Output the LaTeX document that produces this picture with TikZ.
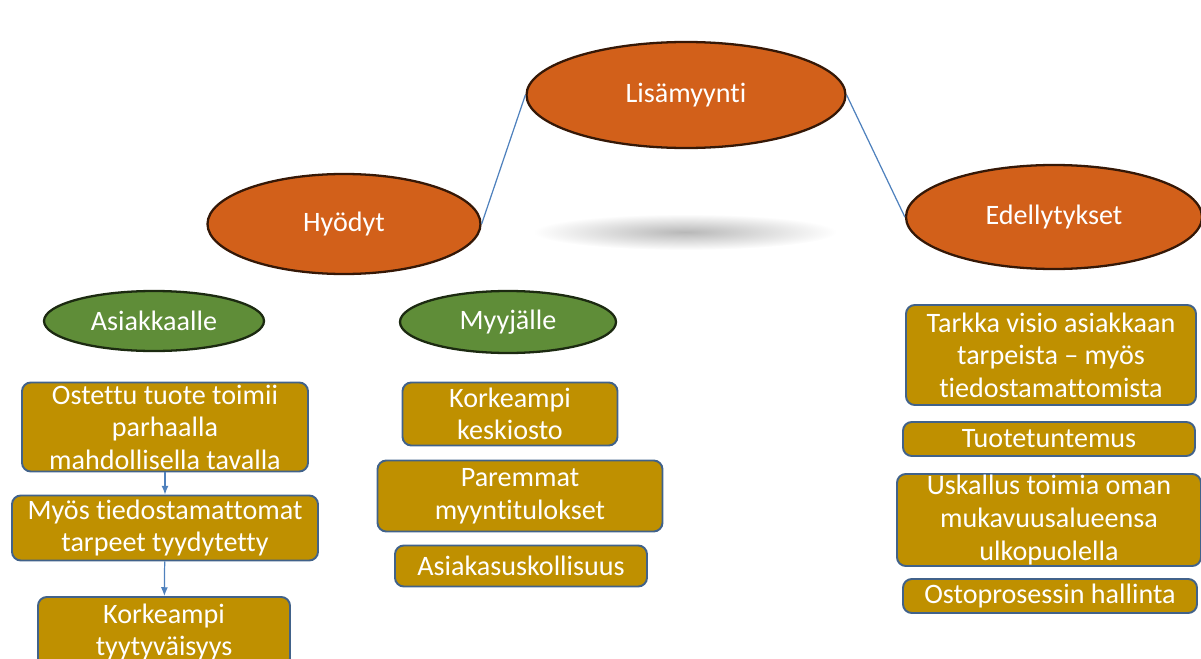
\documentclass[tikz,border=0pt]{standalone}
\usepackage{fontspec}
\setmainfont{Carlito}[Ligatures={NoCommon}]
\usetikzlibrary{arrows.meta,shapes.geometric}
\definecolor{corange}{HTML}{D2601A}
\definecolor{cgreen}{HTML}{5F8D38}
\definecolor{cgold}{HTML}{BF9000}
\definecolor{cedge}{HTML}{41628A}
\definecolor{cline}{HTML}{4F81BD}
\tikzset{
  every picture/.style={>={Latex[length=5pt,width=4pt]}, font=\fontsize{16}{18.5}\selectfont},
  sz/.style 2 args={minimum width=#1*0.02cm, minimum height=#2*0.02cm},
  oval/.style={ellipse, inner sep=0pt, fill=corange, draw=black!75!corange,
    line width=1.3pt, text=white},
  subval/.style={oval, fill=cgreen, draw=black!70!cgreen},
  item/.style={rectangle, rounded corners=5pt, inner sep=0pt, fill=cgold,
    draw=cedge, line width=1.1pt, text=white, align=center},
  link/.style={cline, line width=0.7pt},
}
\begin{document}
\begin{tikzpicture}[x=0.02cm, y=-0.02cm]
  \useasboundingbox (0,0) rectangle (1201,659);
  % shadow under the top oval
  \shade[inner color=black!28, outer color=white] (685,232) ellipse [x radius=152, y radius=18];
  \node[oval, sz={319}{106}] (lisa) at (686,95) {Lisämyynti};
  \node[oval, sz={273}{100}] (hyod) at (344,224) {Hyödyt};
  \node[oval, sz={296}{104}] (edel) at (1054,217) {Edellytykset};
  \draw[link] (lisa.west) -- (hyod.east);
  \draw[link] (lisa.east) -- (edel.west);

  \node[subval, sz={220}{60}] (asiak) at (154,321) {Asiakkaalle};
  \node[subval, sz={216}{62}] (myyja) at (508,322) {Myyjälle};

  % asiakkaalle
  \node[item, sz={286}{89}] (a1) at (165,427) {Ostettu tuote toimii\\ parhaalla\\ mahdollisella tavalla};
  \node[item, sz={306}{65}] (a2) at (165,528) {Myös tiedostamattomat\\ tarpeet tyydytetty};
  \node[item, sz={252}{70}] (a3) at (164,632) {Korkeampi\\ tyytyväisyys};
  \draw[link,->] (a1) -- (a2);
  \draw[link,->] (a2) -- (a3);

  % myyjalle
  \node[item, sz={215}{63}] (m1) at (510,414) {Korkeampi\\ keskiosto};
  \node[item, sz={285}{71}] (m2) at (520,496) {Paremmat\\ myyntitulokset};
  \node[item, sz={252}{41}] (m3) at (521,566) {Asiakasuskollisuus};

  % edellytykset
  \node[item, sz={290}{100}] (e1) at (1051,355) {Tarkka visio asiakkaan\\ tarpeista -- myös\\ tiedostamattomista};
  \node[item, sz={292}{34}] (e2) at (1049,439) {Tuotetuntemus};
  \node[item, sz={304}{92}] (e3) at (1049,520) {Uskallus toimia oman\\ mukavuusalueensa\\ ulkopuolella};
  \node[item, sz={294}{34}] (e4) at (1050,596) {Ostoprosessin hallinta};
\end{tikzpicture}
\end{document}
